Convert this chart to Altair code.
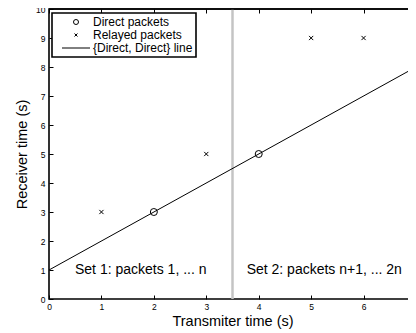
import altair as alt
import pandas as pd

# ---- data ----
direct_x = [2, 4]
direct_y = [3, 5]
relayed_x = [1, 3, 5, 6]
relayed_y = [3, 5, 9, 9]
line_x = [0, 7]
line_y = [1, 8]
boundary_x = [3.5]
set_labels = ["Set 1: packets 1, ... n", "Set 2: packets n+1, ... 2n"]
set_x = [1.75, 5.25]
set_y = [1, 1]
x_ticks = [0, 1, 2, 3, 4, 5, 6, 7]
y_ticks = [0, 1, 2, 3, 4, 5, 6, 7, 8, 9, 10]
series_names = ["Direct packets", "Relayed packets", "{Direct, Direct} line"]

FONT = "Liberation Sans"
X_PATH = "M-0.6,-0.6L0.6,0.6M-0.6,0.6L0.6,-0.6"
LINE_PATH = "M-5.6,0L5.6,0"

# the plot's right edge (x = 7) sits just past the right edge of the picture
W, H = 367, 290

points = pd.DataFrame({
    "x": direct_x + relayed_x,
    "y": direct_y + relayed_y,
    "series": [series_names[0]] * len(direct_x) + [series_names[1]] * len(relayed_x),
})
line_df = pd.DataFrame({"x": line_x, "y": line_y})
bound_df = pd.DataFrame({"x": boundary_x})
top_df = pd.DataFrame({"y": [max(y_ticks)]})
text_df = pd.DataFrame({"x": set_x, "y": set_y, "label": set_labels})

xscale = alt.Scale(domain=[min(x_ticks), max(x_ticks)], nice=False, zero=False)
yscale = alt.Scale(domain=[min(y_ticks), max(y_ticks)], nice=False, zero=False)

ticks_in = dict(grid=False, domain=False, ticks=True, tickSize=4, tickColor="black", tickWidth=1)

# bottom edge: a "top" axis moved down to the bottom edge so its ticks point inward;
# its labels and title are pushed back below the edge
x_bottom = alt.Axis(orient="top", values=x_ticks, offset=-H, labelBaseline="top", labelPadding=-7,
                    labelFont=FONT, labelFontSize=8.5, labelColor="black", labelFlush=False,
                    title="Transmiter time (s)", titleY=22, titleBaseline="middle",
                    titleFont=FONT, titleFontSize=14.5, titleFontWeight="normal", titleColor="black",
                    **ticks_in)
# top edge ticks: a "top" axis shifted inward by the tick length
x_top_ticks = alt.Axis(orient="top", values=x_ticks, offset=-4, labels=False, title=None, **ticks_in)
# left edge: labels + title on a plain left axis, inward ticks on a "right" axis moved to the left edge
y_labels = alt.Axis(orient="left", values=y_ticks, title="Receiver time (s)", grid=False, domain=False,
                    ticks=False, tickSize=0, labelPadding=4, titlePadding=6, labelFlush=False,
                    labelFont=FONT, labelFontSize=8.5, labelColor="black",
                    titleFont=FONT, titleFontSize=14.5, titleFontWeight="normal", titleColor="black")
y_frame = alt.Axis(orient="right", values=y_ticks, offset=-W, labels=False, title=None, **ticks_in)
y_right_ticks = alt.Axis(orient="left", values=y_ticks, offset=-W, labels=False, title=None, **ticks_in)

rule = alt.Chart(bound_df).mark_rule(color="#c4c4c4", strokeWidth=2.5).encode(
    x=alt.X("x:Q", scale=xscale, axis=None)
)

# top frame line at the top of the y range
top_rule = alt.Chart(top_df).mark_rule(color="black", strokeWidth=1.6).encode(
    y=alt.Y("y:Q", scale=yscale, axis=None)
)

line = alt.Chart(line_df).mark_line(color="black", strokeWidth=1, clip=True).encode(
    x=alt.X("x:Q", scale=xscale, axis=x_bottom),
    y=alt.Y("y:Q", scale=yscale, axis=y_labels),
)

pts = alt.Chart(points).mark_point(filled=False, color="black", size=49, strokeWidth=1, opacity=1).encode(
    x=alt.X("x:Q", scale=xscale, axis=x_top_ticks),
    y=alt.Y("y:Q", scale=yscale, axis=y_frame),
    shape=alt.Shape("series:N", scale=alt.Scale(domain=series_names, range=["circle", X_PATH, LINE_PATH]),
                    legend=alt.Legend(title=None, orient="none", legendX=3, legendY=4,
                                      symbolSize=25, symbolStrokeWidth=1, symbolStrokeColor="black",
                                      symbolOffset=15, labelOffset=11, padding=3, rowPadding=1,
                                      labelFont=FONT, labelFontSize=12, labelColor="black",
                                      strokeColor="black", fillColor="white")),
)

texts = alt.Chart(text_df).mark_text(font=FONT, fontSize=14, color="black", align="center", baseline="middle").encode(
    x=alt.X("x:Q", scale=xscale, axis=None),
    y=alt.Y("y:Q", scale=yscale, axis=y_right_ticks),
    text="label:N",
)

chart = alt.layer(rule, top_rule, line, texts, pts).resolve_axis(x="independent", y="independent").properties(
    width=W, height=H,
    autosize=alt.AutoSizeParams(type="none"),
    padding={"left": 41, "top": 1, "right": -8, "bottom": 32},
).configure_view(stroke="black", strokeWidth=1.6).configure_legend(strokeWidth=1.6)

chart.save("out.html", embed_options={"renderer": "svg", "actions": False})
